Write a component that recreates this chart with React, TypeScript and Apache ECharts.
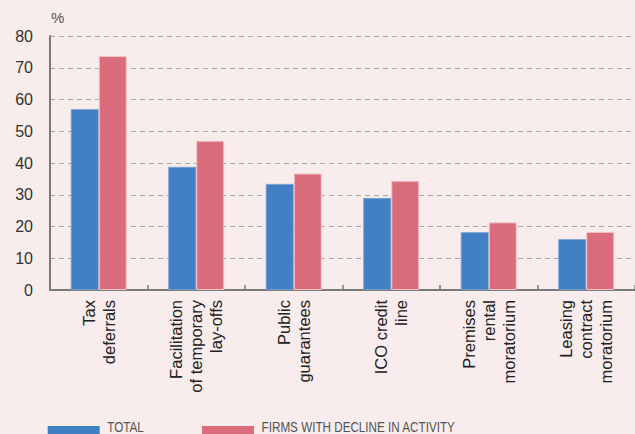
import React, { useEffect, useRef } from "react";
import * as echarts from "echarts";

const categories = [
  "Tax\ndeferrals",
  "Facilitation\nof temporary\nlay-offs",
  "Public\nguarantees",
  "ICO credit\nline",
  "Premises\nrental\nmoratorium",
  "Leasing\ncontract\nmoratorium",
];
const totalValues = [57.0, 38.8, 33.4, 29.0, 18.2, 16.0];
const declineValues = [73.7, 47.0, 36.7, 34.4, 21.3, 18.3];
const seriesNames = ["TOTAL", "FIRMS WITH DECLINE IN ACTIVITY"];
const seriesColors = ["#4180c2", "#d96d7b"];
const yTicks = { min: 0, max: 80, interval: 10 };

export default function App() {
  const ref = useRef<HTMLDivElement>(null);
  useEffect(() => {
    if (!ref.current) return;
    const chart = echarts.init(ref.current, null, { renderer: "svg" });
    const font = "'Liberation Sans', Arial, Helvetica, sans-serif";
    const legendX = [47.7, 202];
    const legendGraphics: any[] = [];
    seriesNames.forEach((name, i) => {
      legendGraphics.push({
        type: "rect",
        shape: { x: legendX[i], y: 426, width: 52, height: 10 },
        style: { fill: seriesColors[i] },
      });
      legendGraphics.push({
        type: "text",
        x: legendX[i] + 59.6,
        y: 420.5,
        scaleX: 0.835,
        style: {
          x: 0,
          y: 0,
          text: name,
          fontSize: 14,
          fill: "#555",
          fontFamily: font,
          textVerticalAlign: "top",
          verticalAlign: "top",
        },
      });
    });
    chart.setOption({
      animation: false,
      backgroundColor: "#f8ecec",
      textStyle: { fontFamily: font },
      graphic: [
        {
          type: "text",
          left: 51,
          top: 10,
          style: { text: "%", fontSize: 15, fill: "#555", fontFamily: font },
        },
        ...legendGraphics,
      ],
      grid: { left: 50, right: -4, top: 36, bottom: 144 },
      xAxis: {
        type: "category",
        data: categories,
        axisLine: { lineStyle: { color: "#7a7a7a", width: 2 } },
        axisTick: { show: true, inside: true, length: 5, lineStyle: { color: "#7a7a7a", width: 1.5 } },
        axisLabel: {
          rotate: 90,
          margin: 10,
          fontSize: 16.5,
          lineHeight: 20,
          color: "#222",
          fontFamily: font,
          interval: 0,
        },
      },
      yAxis: {
        type: "value",
        min: yTicks.min,
        max: yTicks.max,
        interval: yTicks.interval,
        axisLine: { show: true, lineStyle: { color: "#7a7a7a", width: 2 } },
        axisTick: { show: false },
        axisLabel: { fontSize: 16, color: "#333", margin: 17, fontFamily: font },
        splitLine: { lineStyle: { color: "#a8a8a8", type: [5, 4], width: 1 } },
      },
      series: [
        {
          name: seriesNames[0],
          type: "bar",
          data: totalValues,
          barWidth: 28,
          barGap: "0%",
          itemStyle: { color: seriesColors[0], borderColor: "#7ea6d6", borderWidth: 0.8 },
        },
        {
          name: seriesNames[1],
          type: "bar",
          data: declineValues,
          barWidth: 28,
          barGap: "0%",
          itemStyle: { color: seriesColors[1], borderColor: "#f3c3c9", borderWidth: 1 },
        },
      ],
    });
    return () => chart.dispose();
  }, []);
  return <div ref={ref} style={{ width: 635, height: 434, position: "absolute", left: 0, top: 0 }} />;
}
